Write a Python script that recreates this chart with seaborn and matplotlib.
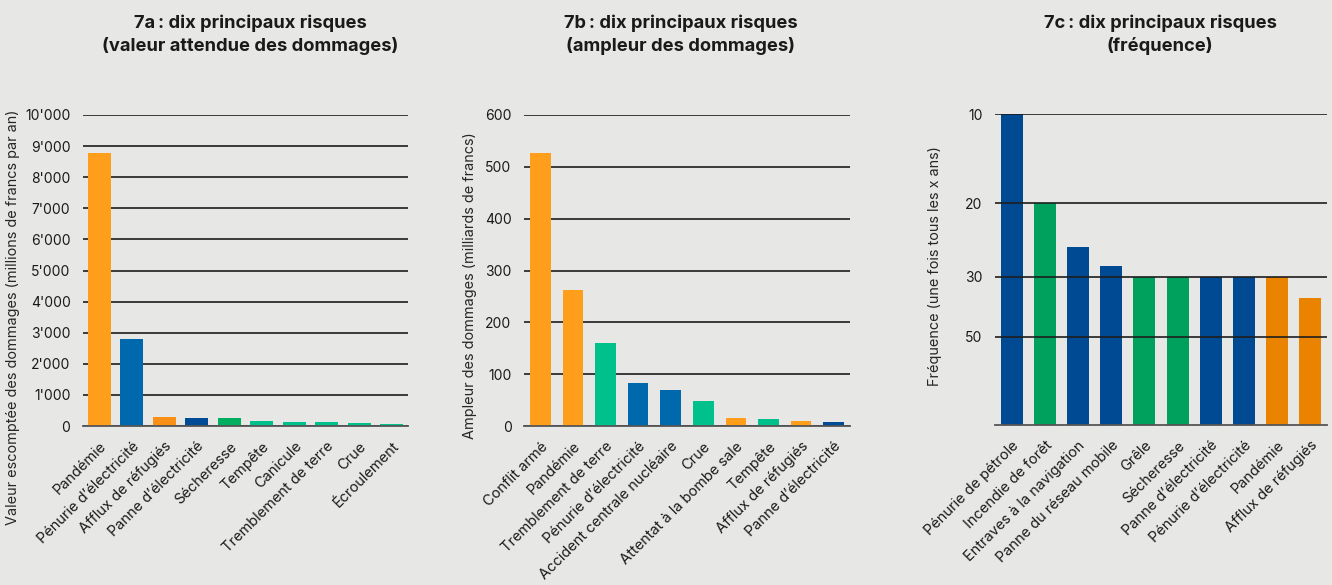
import numpy as np
import matplotlib
matplotlib.use("Agg")
import matplotlib.pyplot as plt
import matplotlib.transforms as mtransforms
import seaborn as sns

# ---- data -------------------------------------------------------------
risks_a = ["Pandémie", "Pénurie d’électricité", "Afflux de réfugiés",
           "Panne d’électricité", "Sécheresse", "Tempête", "Canicule",
           "Tremblement de terre", "Crue", "Écroulement"]
values_a = [8770, 2800, 280, 250, 250, 150, 130, 130, 90, 60]
colors_a = ["#FF9E1A", "#0068AC", "#FA9015", "#004B97", "#00AE5F",
            "#00C18C", "#00C18C", "#00C18C", "#00C18C", "#00C18C"]

risks_b = ["Conflit armé", "Pandémie", "Tremblement de terre",
           "Pénurie d’électricité", "Accident centrale nucléaire", "Crue",
           "Attentat à la bombe sale", "Tempête", "Afflux de réfugiés",
           "Panne d’électricité"]
values_b = [527, 263, 160, 83, 70, 48, 16, 14, 9, 7]
colors_b = ["#FF9E1A", "#FF9E1A", "#00C18C", "#0068AC", "#0068AC",
            "#00C18C", "#FF9E1A", "#00C18C", "#FF9E1A", "#004B97"]

risks_c = ["Pénurie de pétrole", "Incendie de forêt",
           "Entraves à la navigation", "Panne du réseau mobile", "Grêle",
           "Sécheresse", "Panne d’électricité", "Pénurie d’électricité",
           "Pandémie", "Afflux de réfugiés"]
periods_c = [10, 20, 25, 28, 30, 30, 30, 30, 30, 35]   # once every x years
colors_c = ["#004A94", "#00A15D", "#004A94", "#004A94", "#00A15D",
            "#00A15D", "#004A94", "#004A94", "#E98300", "#E98300"]

ticks_a = [0, 1000, 2000, 3000, 4000, 5000, 6000, 7000, 8000, 9000, 10000]
ticks_b = [0, 100, 200, 300, 400, 500, 600]
ticks_c = [10, 20, 30, 50]

# ---- style ------------------------------------------------------------
BG = "#E7E8E5"
sns.set_theme(style="white")
plt.rcParams["font.family"] = ["Inter", "DejaVu Sans"]
plt.rcParams["text.color"] = "#1A1A1A"

fig = plt.figure(figsize=(13.32, 5.85), dpi=100, facecolor=BG)
W, H = 1332, 585


def axes_px(left, top, right, bottom):
    return fig.add_axes([left / W, 1 - bottom / H, (right - left) / W,
                         (bottom - top) / H])


def draw_bars(ax, names, values, colors, width):
    sns.barplot(x=names, y=values, hue=names, palette=dict(zip(names, colors)),
                legend=False, saturation=1, width=width, ax=ax, linewidth=0)
    ax.set_facecolor(BG)
    for s in ("left", "right", "top"):
        ax.spines[s].set_visible(False)
    ax.spines["bottom"].set_color("#555555")
    ax.spines["bottom"].set_linewidth(1.3)
    ax.yaxis.grid(True, color="#1E1E1E", linewidth=1.2)
    ax.xaxis.grid(False)
    ax.set_xlim(-0.5, len(names) - 0.5)
    ax.tick_params(axis="both", length=0, colors="#1A1A1A")
    ax.tick_params(axis="y", pad=9, labelsize=10)
    ax.tick_params(axis="x", pad=6)
    ax.set_xticks(range(len(names)))
    ax.set_xticklabels(names, rotation=45, ha="right", va="center",
                       rotation_mode="anchor", fontsize=10.5)
    shift = mtransforms.ScaledTranslation(5 / 100, -10 / 100,
                                          fig.dpi_scale_trans)
    for lab in ax.get_xticklabels():
        lab.set_transform(lab.get_transform() + shift)


def thousands(v):
    return f"{v:,.0f}".replace(",", "'")


# ---- 7a ---------------------------------------------------------------
ax_a = axes_px(83, 115, 408, 426)
draw_bars(ax_a, risks_a, values_a, colors_a, 0.72)
ax_a.set_axisbelow(True)
ax_a.set_ylim(0, 10000)
ax_a.set_yticks(ticks_a)
ax_a.set_yticklabels([thousands(t) for t in ticks_a])
ax_a.set_ylabel("Valeur escomptée des dommages (millions de francs par an)",
                fontsize=10.4)
ax_a.yaxis.set_label_coords(-0.194, 0.35)

# ---- 7b ---------------------------------------------------------------
ax_b = axes_px(524, 115, 850, 426)
draw_bars(ax_b, risks_b, values_b, colors_b, 0.63)
ax_b.set_axisbelow(True)
ax_b.set_ylim(0, 600)
ax_b.set_yticks(ticks_b)
ax_b.set_yticklabels([str(t) for t in ticks_b])
ax_b.set_ylabel("Ampleur des dommages (milliards de francs)", fontsize=10.4)
ax_b.yaxis.set_label_coords(-0.144, 0.453)

# ---- 7c ---------------------------------------------------------------
# bar height = yearly frequency (1 / return period); the axis spaces the
# labelled return periods on a piecewise-linear scale of that frequency
freq_c = [1 / p for p in periods_c]
freq_knots = [0.0, 1 / 50, 1 / 30, 1 / 20, 1 / 10]
pos_knots = [0.0, 88.3, 148.3, 221.7, 311.0]


def freq_fwd(f):
    return np.interp(f, freq_knots, pos_knots)


def freq_inv(p):
    return np.interp(p, pos_knots, freq_knots)


ax_c = axes_px(995, 114, 1327, 425)
ax_c.set_yscale("function", functions=(freq_fwd, freq_inv))
draw_bars(ax_c, risks_c, freq_c, colors_c, 0.66)
ax_c.set_axisbelow(False)
ax_c.set_ylim(0, 0.1)
ax_c.set_yticks([1 / t for t in ticks_c])
ax_c.set_yticklabels([str(t) for t in ticks_c])
ax_c.yaxis.set_minor_locator(matplotlib.ticker.NullLocator())
ax_c.set_ylabel("Fréquence (une fois tous les x ans)", fontsize=10.4)
ax_c.yaxis.set_label_coords(-0.16, 0.51)

# ---- titles -----------------------------------------------------------
title_kw = dict(ha="center", va="top", fontsize=13.2, fontweight="bold",
                linespacing=1.42)
fig.text(250 / W, 1 - 14 / H,
         "7a\u202f: dix principaux risques\n(valeur attendue des dommages)",
         **title_kw)
fig.text(681 / W, 1 - 14 / H,
         "7b\u202f: dix principaux risques\n(ampleur des dommages)",
         **title_kw)
fig.text(1160 / W, 1 - 14 / H,
         "7c\u202f: dix principaux risques\n(fréquence)", **title_kw)

fig.savefig("out.png", dpi=100, facecolor=BG)
